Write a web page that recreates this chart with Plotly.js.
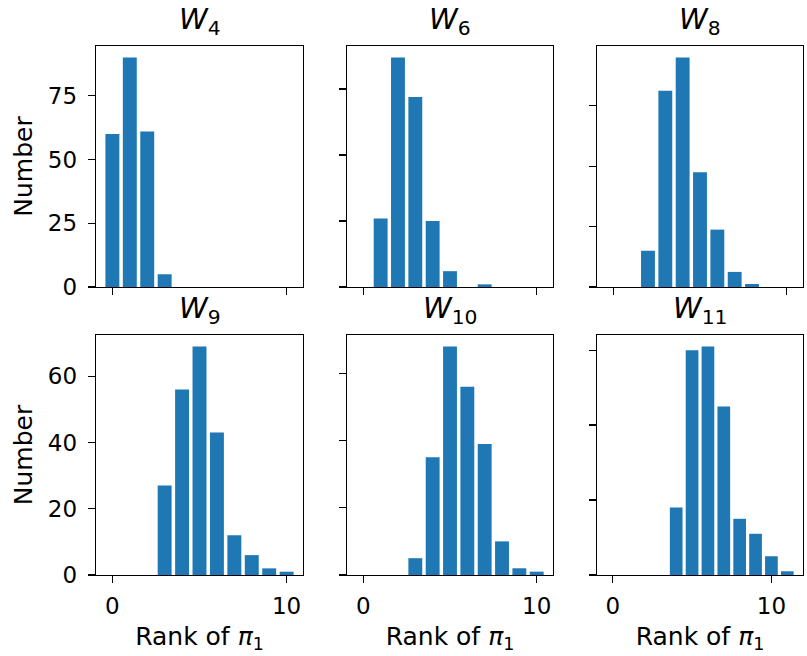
<!DOCTYPE html>
<html>
<head>
<meta charset="utf-8">
<script src="https://cdn.plot.ly/plotly-3.0.1.min.js"></script>
<style>html,body{margin:0;padding:0;background:#fff;}#chart{width:807px;height:656px;}</style>
</head>
<body>
<div id="chart"></div>
<script>
// Ranks (x categories)
var ranks10 = [0,1,2,3,4,5,6,7,8,9,10];
var ranks11 = [0,1,2,3,4,5,6,7,8,9,10,11];
// Counts per rank for each panel
var w4  = [60,90,61,5,0,0,0,0,0,0,0];
var w6  = [0,26,87,72,25,6,0,1,0,0,0];
var w8  = [0,0,12,65,76,38,19,5,1,0,0];
var w9  = [0,0,0,27,56,69,43,12,6,2,1];
var w10 = [0,0,0,5,35,68,56,39,10,2,1];
var w11 = [0,0,0,0,18,60,61,45,15,11,5,1];
var panelTitles = ["<i>W</i><sub>4</sub>","<i>W</i><sub>6</sub>","<i>W</i><sub>8</sub>",
                   "<i>W</i><sub>9</sub>","<i>W</i><sub>10</sub>","<i>W</i><sub>11</sub>"];
var xTickVals = [0,10];
var yTicksTop = [[0,25,50,75],[0,25,50,75],[0,20,40,60]];
var yTicksBottom = [[0,20,40,60],[0,20,40,60],[0,20,40,60]];

var panels = [
  {x: ranks10, y: w4},
  {x: ranks10, y: w6},
  {x: ranks10, y: w8},
  {x: ranks10, y: w9},
  {x: ranks10, y: w10},
  {x: ranks11, y: w11}
];
var W = 807, H = 656;
var colsPx = [[96,303],[347,553],[597,803]];
var rowsPx = [[46,287],[335,575]];
var FONT = "DejaVu Sans";
var blue = "#1f77b4";

var data = [];
var layout = {
  width: W, height: H,
  margin: {l:0, r:0, t:0, b:0},
  paper_bgcolor: "#fff", plot_bgcolor: "#fff",
  showlegend: false,
  font: {family: FONT, color: "#000"},
  bargap: 0.2,
  annotations: []
};

panels.forEach(function(p, i){
  var r = Math.floor(i/3), c = i%3;
  var n = i+1;
  var xa = "x" + (n===1?"":n), ya = "y" + (n===1?"":n);
  var xk = "xaxis" + (n===1?"":n), yk = "yaxis" + (n===1?"":n);
  data.push({type:"bar", x:p.x, y:p.y, xaxis:xa, yaxis:ya, width:0.8,
             marker:{color:blue, line:{width:0}}, hoverinfo:"x+y"});
  var xmin = p.x[0]-0.4, xmax = p.x[p.x.length-1]+0.4, span = xmax-xmin;
  var ymax = Math.max.apply(null, p.y);
  var yt = r===0 ? yTicksTop[c] : yTicksBottom[c];
  var xAxis = {
    domain: [colsPx[c][0]/W, colsPx[c][1]/W],
    anchor: ya,
    range: [xmin-0.05*span, xmax+0.05*span],
    tickmode: "array", tickvals: xTickVals,
    showticklabels: r===1,
    ticks: "outside", ticklen: 7, tickwidth: 1.3, tickcolor: "#000",
    ticklabelstandoff: 3,
    tickfont: {family: FONT, size: 23, color:"#000"},
    showline: true, mirror: true, linecolor: "#000", linewidth: 1.3,
    showgrid: false, zeroline: false, fixedrange: true
  };
  if (r===1) xAxis.title = {text: "Rank of <i>π</i><sub>1</sub>", font:{family:FONT, size:25, color:"#000"}, standoff: 9};
  var yAxis = {
    domain: [1-rowsPx[r][1]/H, 1-rowsPx[r][0]/H],
    anchor: xa,
    range: [0, ymax*1.05],
    tickmode: "array", tickvals: yt,
    showticklabels: c===0,
    ticks: "outside", ticklen: 7, tickwidth: 1.3, tickcolor: "#000",
    ticklabelstandoff: 6,
    tickfont: {family: FONT, size: 23, color:"#000"},
    showline: true, mirror: true, linecolor: "#000", linewidth: 1.3,
    showgrid: false, zeroline: false, fixedrange: true
  };
  if (c===0) yAxis.title = {text: "Number", font:{family:FONT, size:25, color:"#000"}, standoff: 8};
  layout[xk] = xAxis;
  layout[yk] = yAxis;
  layout.annotations.push({
    text: panelTitles[i], xref:"paper", yref:"paper",
    x: (colsPx[c][0]+colsPx[c][1])/2/W, y: 1-rowsPx[r][0]/H,
    xanchor:"center", yanchor:"bottom", yshift: 4, showarrow:false,
    font:{family:FONT, size:29, color:"#000"}
  });
});

Plotly.newPlot("chart", data, layout, {displayModeBar:false, staticPlot:true});
</script>
</body>
</html>
